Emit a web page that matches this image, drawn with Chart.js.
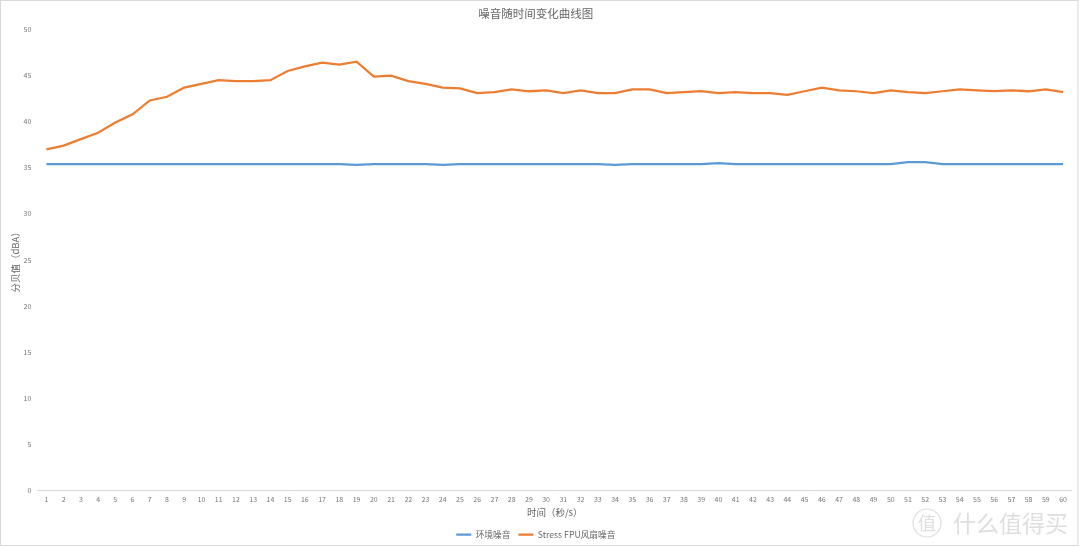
<!DOCTYPE html>
<html>
<head>
<meta charset="utf-8">
<title>噪音随时间变化曲线图</title>
<script src="https://cdn.jsdelivr.net/npm/chart.js@4.4.1/dist/chart.umd.min.js"></script>
<style>
  html, body { margin: 0; padding: 0; background: #fff; }
</style>
</head>
<body>
<canvas id="noiseChart" width="1080" height="547"></canvas>
<script>
// x categories: seconds 1..60
const seconds = [
  '1', '2', '3', '4', '5', '6', '7', '8', '9', '10',
  '11', '12', '13', '14', '15', '16', '17', '18', '19', '20',
  '21', '22', '23', '24', '25', '26', '27', '28', '29', '30',
  '31', '32', '33', '34', '35', '36', '37', '38', '39', '40',
  '41', '42', '43', '44', '45', '46', '47', '48', '49', '50',
  '51', '52', '53', '54', '55', '56', '57', '58', '59', '60'
];

// 环境噪音 (dBA)
const ambientNoise = [
  35.4, 35.4, 35.4, 35.4, 35.4, 35.4, 35.4, 35.4, 35.4, 35.4,
  35.4, 35.4, 35.4, 35.4, 35.4, 35.4, 35.4, 35.4, 35.3, 35.4,
  35.4, 35.4, 35.4, 35.3, 35.4, 35.4, 35.4, 35.4, 35.4, 35.4,
  35.4, 35.4, 35.4, 35.3, 35.4, 35.4, 35.4, 35.4, 35.4, 35.5,
  35.4, 35.4, 35.4, 35.4, 35.4, 35.4, 35.4, 35.4, 35.4, 35.4,
  35.6, 35.6, 35.4, 35.4, 35.4, 35.4, 35.4, 35.4, 35.4, 35.4
];

// Stress FPU 风扇噪音 (dBA)
const fpuFanNoise = [
  37.0, 37.4, 38.1, 38.8, 39.9, 40.8, 42.3, 42.7, 43.7, 44.1,
  44.5, 44.4, 44.4, 44.5, 45.5, 46.0, 46.4, 46.2, 46.5, 44.9,
  45.0, 44.4, 44.1, 43.7, 43.6, 43.1, 43.2, 43.5, 43.3, 43.4,
  43.1, 43.4, 43.1, 43.1, 43.5, 43.5, 43.1, 43.2, 43.3, 43.1,
  43.2, 43.1, 43.1, 42.9, 43.3, 43.7, 43.4, 43.3, 43.1, 43.4,
  43.2, 43.1, 43.3, 43.5, 43.4, 43.3, 43.4, 43.3, 43.5, 43.2
];

const yTickStep = 5;
const chartTitle = '噪音随时间变化曲线图';
const xTitle = '时间（秒/s）';
const yTitle = '分贝值（dBA）';

const FONT = "'Noto Sans CJK SC', 'Noto Sans', sans-serif";
Chart.defaults.font.family = FONT;
Chart.defaults.color = '#777';

// white background, thin frame and the site watermark
const framePlugin = {
  id: 'frame',
  beforeDraw(chart) {
    const ctx = chart.ctx;
    ctx.save();
    ctx.fillStyle = '#fff';
    ctx.fillRect(0, 0, chart.width, chart.height);
    ctx.strokeStyle = '#d9d9d9';
    ctx.lineWidth = 1;
    ctx.strokeRect(0.5, 0.5, 1077.5, 545);
    ctx.restore();
  },
  afterDraw(chart) {
    const ctx = chart.ctx;
    ctx.save();
    ctx.strokeStyle = '#dedede';
    ctx.fillStyle = '#dedede';
    ctx.lineWidth = 1.2;
    ctx.beginPath();
    ctx.arc(927, 523, 14, 0, Math.PI * 2);
    ctx.stroke();
    ctx.textAlign = 'center';
    ctx.textBaseline = 'middle';
    ctx.font = "18px " + FONT;
    ctx.fillText('值', 927, 523);
    ctx.textAlign = 'left';
    ctx.font = "23px " + FONT;
    ctx.fillText('什么值得买', 953, 523);
    ctx.restore();
  }
};

const ctx = document.getElementById('noiseChart').getContext('2d');
const noiseChart = new Chart(ctx, {
  type: 'line',
  data: {
    labels: seconds,
    datasets: [
      {
        label: '环境噪音',
        data: ambientNoise,
        borderColor: '#5B9BD5',
        backgroundColor: '#5B9BD5',
        borderWidth: 2.25,
        pointRadius: 0,
        pointStyle: 'line',
        tension: 0,
        fill: false
      },
      {
        label: 'Stress FPU风扇噪音',
        data: fpuFanNoise,
        borderColor: '#ED7D31',
        backgroundColor: '#ED7D31',
        borderWidth: 2.25,
        pointRadius: 0,
        pointStyle: 'line',
        tension: 0,
        fill: false
      }
    ]
  },
  options: {
    responsive: false,
    animation: false,
    layout: { padding: { left: 0, right: 8.3, top: 0, bottom: -2 } },
    plugins: {
      title: {
        display: true,
        text: chartTitle,
        color: '#666',
        font: { size: 11.5, weight: 'normal' },
        padding: { top: 6.4, bottom: 9.3 }
      },
      legend: {
        position: 'bottom',
        labels: {
          usePointStyle: true,
          pointStyle: 'line',
          pointStyleWidth: 15,
          padding: 8,
          color: '#666',
          font: { size: 8.7 }
        }
      },
      tooltip: { enabled: false }
    },
    scales: {
      x: {
        offset: true,
        grid: { display: false, drawTicks: false },
        border: { display: true, color: '#d9d9d9', width: 1 },
        ticks: { font: { size: 7 }, padding: 4.8, maxRotation: 0, minRotation: 0, autoSkip: false },
        title: {
          display: true,
          text: xTitle,
          color: '#666',
          font: { size: 9.5 },
          padding: { top: -1.5, bottom: 4.1 }
        }
      },
      y: {
        min: 0,
        max: 50,
        grid: { display: false, drawTicks: false },
        border: { display: false },
        ticks: { stepSize: yTickStep, font: { size: 7 }, padding: 6.5 },
        title: {
          display: true,
          text: yTitle,
          color: '#666',
          font: { size: 9.5 },
          padding: { top: 9.3, bottom: -3.7 }
        }
      }
    }
  },
  plugins: [framePlugin]
});
</script>
</body>
</html>
